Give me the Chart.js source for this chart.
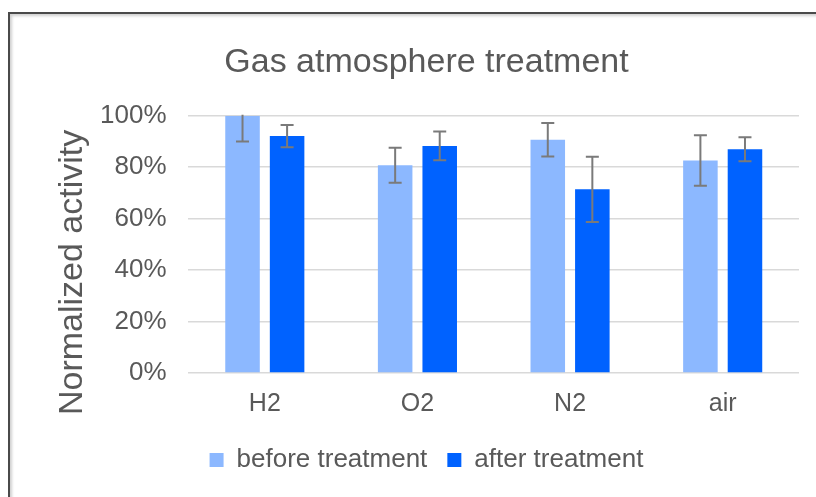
<!DOCTYPE html>
<html lang="en">

<head>
  <meta charset="UTF-8">
  <title>Gas atmosphere treatment</title>
  <script src="https://cdn.jsdelivr.net/npm/chart.js"></script>
  <style>
    html, body { margin: 0; padding: 0; background: #fff; overflow: hidden; }
    .frame {
      position: absolute; left: 8px; top: 12px; width: 826px; height: 490px;
      border-top: 2px solid #4a4a4a; border-left: 2px solid #4a4a4a;
      box-shadow: inset 2px 2px 3px #d0d0d0;
    }
    .box { position: absolute; left: 0; top: 0; width: 826px; height: 485px; }
  </style>
</head>

<body>
  <div class="frame">
    <div class="box"><canvas id="gasChart"></canvas></div>
  </div>

  <script>
    // values (percent)
    const gases = ['H2', 'O2', 'N2', 'air'];
    const before = [100, 80.8, 90.7, 82.6];
    const beforeErr = [10, 6.8, 6.5, 9.8];
    const after = [92.1, 88.3, 71.4, 87.0];
    const afterErr = [4.3, 5.6, 12.7, 4.7];
    const yTicks = [0, 20, 40, 60, 80, 100];
    const yTitle = 'Normalized activity';

    const grey = '#595959';

    // draws the error whiskers through the chart's own scales
    const errorBars = {
      id: 'errorBars',
      afterDatasetsDraw(chart) {
        const ctx = chart.ctx;
        const y = chart.scales.y;
        const area = chart.chartArea;
        ctx.save();
        ctx.beginPath();
        ctx.rect(area.left, area.top - 1, area.right - area.left, area.bottom - area.top + 2);
        ctx.clip();
        ctx.strokeStyle = '#7a7a7a';
        ctx.lineWidth = 2;
        chart.data.datasets.forEach((ds, i) => {
          chart.getDatasetMeta(i).data.forEach((bar, j) => {
            const v = ds.data[j], e = ds.errors[j];
            const top = y.getPixelForValue(v + e);
            const bot = y.getPixelForValue(v - e);
            ctx.beginPath();
            ctx.moveTo(bar.x, top); ctx.lineTo(bar.x, bot);
            ctx.moveTo(bar.x - 6.5, top); ctx.lineTo(bar.x + 6.5, top);
            ctx.moveTo(bar.x - 6.5, bot); ctx.lineTo(bar.x + 6.5, bot);
            ctx.stroke();
          });
        });
        ctx.restore();
      }
    };

    // y title sits a bit below the middle of the axis, like the office chart
    const sideTitle = {
      id: 'sideTitle',
      afterDraw(chart) {
        const ctx = chart.ctx;
        const area = chart.chartArea;
        ctx.save();
        ctx.translate(chart.scales.y.left + 19, (area.top + area.bottom) / 2 + 28);
        ctx.rotate(-Math.PI / 2);
        ctx.fillStyle = grey;
        ctx.font = '34px "Liberation Sans"';
        ctx.textAlign = 'center';
        ctx.textBaseline = 'middle';
        ctx.fillText(yTitle, 0, 0);
        ctx.restore();
      }
    };

    new Chart(document.getElementById('gasChart'), {
      type: 'bar',
      data: {
        labels: gases,
        datasets: [
          { label: 'before treatment', data: before, errors: beforeErr, backgroundColor: '#8cb8ff' },
          { label: 'after treatment', data: after, errors: afterErr, backgroundColor: '#0062ff' }
        ]
      },
      options: {
        responsive: true,
        maintainAspectRatio: false,
        animation: false,
        categoryPercentage: 0.584,
        barPercentage: 0.775,
        layout: { padding: { left: 44, right: 37, top: 28, bottom: 16 } },
        plugins: {
          title: {
            display: true,
            text: 'Gas atmosphere treatment',
            color: grey,
            font: { family: 'Liberation Sans', size: 34, weight: 'normal' },
            padding: { top: 0, bottom: 33 }
          },
          legend: {
            position: 'bottom',
            labels: {
              color: grey,
              boxWidth: 14, boxHeight: 14,
              padding: 20,
              font: { family: 'Liberation Sans', size: 26 }
            }
          },
          tooltip: { enabled: false }
        },
        scales: {
          x: {
            grid: { display: false },
            border: { display: false },
            ticks: { color: grey, padding: 8, font: { family: 'Liberation Sans', size: 25 } }
          },
          y: {
            min: 0, max: 100,
            afterBuildTicks: s => { s.ticks = yTicks.map(v => ({ value: v })); },
            afterFit: s => { s.width += 24; },
            grid: { color: '#d9d9d9', lineWidth: 1.5, drawTicks: false },
            border: { display: false },
            ticks: {
              color: grey, padding: 22,
              font: { family: 'Liberation Sans', size: 26 },
              callback: v => v + '%'
            }
          }
        }
      },
      plugins: [errorBars, sideTitle]
    });
  </script>
</body>

</html>
